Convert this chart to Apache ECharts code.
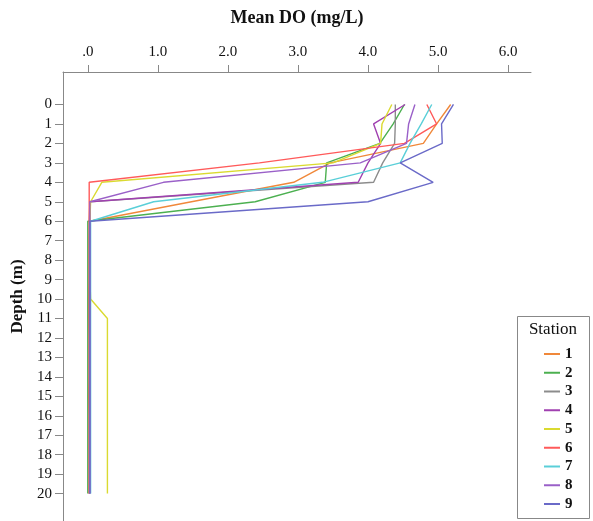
<!DOCTYPE html>
<html>
<head>
<meta charset="utf-8">
<script src="https://cdn.jsdelivr.net/npm/echarts@6/dist/echarts.min.js"></script>
<style>
  html, body { margin: 0; padding: 0; background: #fff; }
  #chart { width: 593px; height: 521px; }
</style>
</head>
<body>
<div id="chart"></div>
<script>
// Depth (m) of each sampling level
const depths = [0,1,2,3,4,5,6,7,8,9,10,11,12,13,14,15,16,17,18,19,20];
const stations = ['1','2','3','4','5','6','7','8','9'];

// Mean dissolved oxygen (mg/L) per station, one value per depth
const station1 = [5.18,4.98,4.79,3.46,2.94,1.48,0.03,0.02,0.02,0.02,0.01,0.01,0.02,0.02,0.02,0.01,0.02,0.02,0.02,0.02,0.02];
const station2 = [4.52,4.36,4.17,3.41,3.39,2.39,0.00,0.00,0.00,0.00,0.00,0.00,0.00,0.00,0.00,0.00,0.00,0.00,0.00,0.00,0.00];
const station3 = [4.39,4.39,4.38,4.21,4.08,0.03,0.02,0.02,0.02,0.02,0.02,0.02,0.02,0.02,0.02,0.02,0.02,0.02,0.02,0.02,0.02];
const station4 = [4.53,4.08,4.18,4.00,3.86,0.03,0.03,0.03,0.03,0.03,0.03,0.03,0.03,0.03,0.03,0.03,0.03,0.03,0.03,0.03,0.03];
const station5 = [4.34,4.20,4.18,3.50,0.20,0.04,0.03,0.03,0.03,0.03,0.04,0.28,0.28,0.28,0.28,0.28,0.28,0.28,0.28,0.28,0.28];
const station6 = [4.84,4.98,4.52,2.45,0.02,0.02,0.02,0.02,0.02,0.02,0.02,0.02,0.02,0.02,0.02,0.02,0.02,0.02,0.02,0.02,0.02];
const station7 = [4.91,4.76,4.60,4.46,3.35,0.94,0.04,0.04,0.04,0.04,0.04,0.04,0.04,0.04,0.04,0.04,0.04,0.04,0.04,0.04,0.04];
const station8 = [4.67,4.58,4.55,3.89,1.08,0.03,0.03,0.03,0.03,0.03,0.03,0.03,0.03,0.03,0.03,0.03,0.03,0.03,0.03,0.03,0.03];
const station9 = [5.22,5.05,5.06,4.46,4.93,4.00,0.03,0.03,0.03,0.03,0.03,0.03,0.03,0.03,0.03,0.03,0.03,0.03,0.03,0.03,0.03];

const stationValues = [station1,station2,station3,station4,station5,station6,station7,station8,station9];
const colors = ['#F0883A','#4CB050','#8C8C8C','#A040B0','#DADA30','#FF5A5A','#5ACFD8','#9A60C8','#6A6AC8'];

// Tick labels
const doTicks = [0,1,2,3,4,5,6];
const depthTicks = depths;

const serif = '"Liberation Serif", "Times New Roman", serif';

const series = stations.map((name, i) => ({
  name: name,
  type: 'line',
  symbol: 'none',
  smooth: false,
  lineStyle: { width: 1.4, color: colors[i] },
  itemStyle: { color: colors[i] },
  data: stationValues[i].map((v, k) => [v, depths[k]])
}));

const chart = echarts.init(document.getElementById('chart'), null, { renderer: 'canvas' });
chart.setOption({
  animation: false,
  backgroundColor: '#fff',
  grid: { left: 63, right: 62, top: 72, bottom: 0, containLabel: false },
  xAxis: {
    type: 'value',
    position: 'top',
    min: -0.354,
    max: 6.327,
    name: 'Mean DO (mg/L)',
    nameLocation: 'middle',
    nameGap: 45,
    nameTextStyle: { fontFamily: serif, fontSize: 18, fontWeight: 'bold', color: '#111' },
    axisLine: { show: true, onZero: false, lineStyle: { color: '#888', width: 1 } },
    axisTick: { show: true, inside: false, length: 7, customValues: doTicks, lineStyle: { color: '#888' } },
    axisLabel: {
      customValues: doTicks,
      margin: 12,
      fontFamily: serif, fontSize: 15, color: '#111',
      formatter: v => (v === 0 ? '.0' : v.toFixed(1))
    },
    splitLine: { show: false }
  },
  yAxis: {
    type: 'value',
    inverse: true,
    min: -1.67,
    max: 21.41,
    name: 'Depth (m)',
    nameLocation: 'middle',
    nameGap: 37,
    nameRotate: 90,
    nameTextStyle: { fontFamily: serif, fontSize: 17, fontWeight: 'bold', color: '#111' },
    axisLine: { show: true, onZero: false, lineStyle: { color: '#888', width: 1 } },
    axisTick: { show: true, inside: false, length: 8, customValues: depthTicks, lineStyle: { color: '#888' } },
    axisLabel: {
      customValues: depthTicks,
      margin: 11,
      fontFamily: serif, fontSize: 15, color: '#111'
    },
    splitLine: { show: false }
  },
  legend: {
    orient: 'vertical',
    left: 544,
    top: 346,
    padding: 0,
    itemGap: 2.75,
    itemWidth: 16,
    itemHeight: 2,
    icon: 'rect',
    data: stations,
    textStyle: { fontFamily: serif, fontSize: 15, fontWeight: 'bold', color: '#111', lineHeight: 16 }
  },
  graphic: [
    { type: 'rect', z: -1, shape: { x: 517.5, y: 316.5, width: 72, height: 202 },
      style: { fill: '#fff', stroke: '#888', lineWidth: 1 } },
    { type: 'text', x: 553, y: 330,
      style: { text: 'Station', fontFamily: serif, fontSize: 17, fill: '#111',
               textAlign: 'center', textVerticalAlign: 'middle' } }
  ],
  series: series
});
</script>
</body>
</html>
